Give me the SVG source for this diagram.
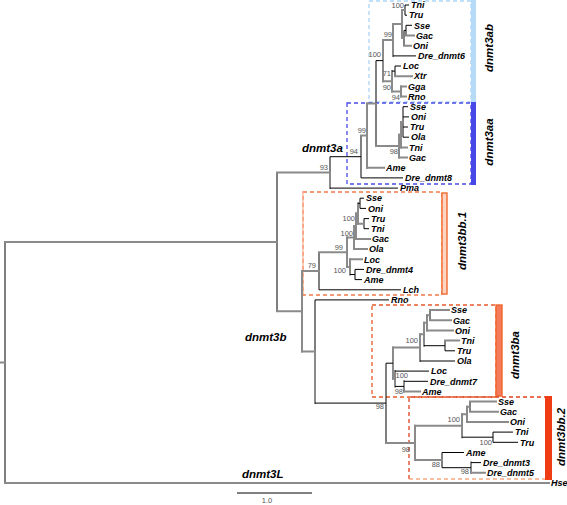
<svg xmlns="http://www.w3.org/2000/svg" width="567" height="505" viewBox="0 0 567 505">
<style>
.g{stroke:#8a8a8a;stroke-width:2;fill:none;stroke-linecap:square}
.k{stroke:#000;stroke-width:1;fill:none}
.lf{font-family:"Liberation Sans",Arial,sans-serif;font-style:italic;font-weight:bold;font-size:9px;fill:#000}
.bs{font-family:"Liberation Sans",Arial,sans-serif;font-size:7.5px;fill:#555;text-anchor:end}
.cl{font-family:"Liberation Sans",Arial,sans-serif;font-style:italic;font-weight:bold;font-size:11.5px;fill:#000}
.rl{font-family:"Liberation Sans",Arial,sans-serif;font-style:italic;font-weight:bold;font-size:11.5px;fill:#000;text-anchor:middle}
.box{fill:none;stroke-width:1.3;stroke-dasharray:4,3}
</style>
<rect width="567" height="505" fill="#fff"/>
<g id="clade-boxes">
<g id="box-dnmt3ab"><rect class="box" x="369" y="1" width="102" height="101" stroke="#acd5f6"/><rect x="471" y="0" width="5" height="102" fill="#b6dbf8"/><text class="rl" transform="translate(493,48) rotate(-90)">dnmt3ab</text></g>
<g id="box-dnmt3aa"><rect class="box" x="347" y="103" width="124" height="81" stroke="#4b4be6"/><rect x="471" y="102" width="5" height="83" fill="#4848e8"/><text class="rl" transform="translate(493,142) rotate(-90)">dnmt3aa</text></g>
<g id="box-dnmt3bb1"><rect class="box" x="303" y="192" width="139" height="103" stroke="#f27a48"/><line class="box" x1="303" y1="192" x2="303" y2="295" stroke="#f8b594"/><rect x="442" y="193" width="5" height="101" fill="#fdd5c2" stroke="#f06a30" stroke-width="1.4"/><text class="rl" transform="translate(466,241) rotate(-90)">dnmt3bb.1</text></g>
<g id="box-dnmt3ba"><rect class="box" x="372" y="305" width="124" height="92" stroke="#e85a2a"/><rect x="496" y="305" width="6" height="91" fill="#f47a5c" stroke="#f0662c" stroke-width="1.4"/><text class="rl" transform="translate(519,355) rotate(-90)">dnmt3ba</text></g>
<g id="box-dnmt3bb2"><path class="box" d="M409 479V397H545" stroke="#e0401c"/><line class="box" x1="409" y1="479" x2="545" y2="479" stroke="#f8a880"/><rect x="545" y="396" width="7" height="84" fill="#f03c14"/><text class="rl" transform="translate(565,437) rotate(-90)">dnmt3bb.2</text></g>
</g>
<g id="connectors">
<path class="k" d="M5 241.9V483M277 172.4V311.3M330 156.7V172.4M361 135.5V177.9M376 60.6V146.1M405 5V15.2M404 30.4V45.7M406 25.3V35.5M395 66V76.2M403 106.7V137.2M319 252.3V289.8M360 198.2V208.4M364 218.6V228.7M355 269.4V279.6M315 299.9V351.5M386 363.2V443M430 310.1V320.3M445 340.6V350.8M470 401.6V411.8M493 432.1V442.3M442 452.5V467.7"/>
<path class="g" d="M330 172.4V188.1M367 103.4V167.7M383 40V81.3M393 24.1V55.9M402 10.1V38M392 71.1V91.4M401 86.4V96.5M399 134.7V157.6M401 122V147.4M302 271V351.5M347 237.6V266.9M354 226.2V249.1M356 213.5V238.9M358 203.3V223.7M350 259.3V274.5M315 351.5V403.1M393 347.6V378.8M420 334.2V361M424 322.8V345.7M427 315.2V330.4M395 371.1V386.4M404 381.3V391.5M415 425.8V460.1M462 414.3V437.2M467 406.7V422M471 462.6V472.8"/>
<path class="g" d="M0 362.4H5M5 241.9H277M5 483H549M277 172.4H330M277 311.3H302M361 135.5H367M367 103.4H376M367 167.7H384M376 146.1H399M383 40H393M383 81.3H392M393 24.1H402M402 10.1H405M402 38H404M404 45.7H411M406 35.5H414M392 91.4H401M395 76.2H412M401 86.4H406M401 96.5H406M399 134.7H401M399 157.6H407M401 122H403M401 147.4H407M302 271H319M302 351.5H315M319 252.3H347M347 237.6H354M347 266.9H350M354 226.2H356M354 249.1H367M356 213.5H358M356 238.9H370M358 223.7H364M350 259.3H362M386 443H415M393 347.6H420M393 378.8H395M420 334.2H424M424 322.8H427M427 315.2H430M427 330.4H453M430 310.1H449M430 320.3H451M445 340.6H459M404 391.5H420M415 425.8H462M415 460.1H442M462 414.3H467M467 406.7H470M467 422H508M470 401.6H496M470 411.8H498M471 472.8H485"/>
<path class="k" d="M330 156.7H361M330 188.1H398M361 177.9H403M376 60.6H383M393 55.9H416M405 5H409M405 15.2H407M404 30.4H406M406 25.3H412M392 71.1H395M395 66H401M403 106.7H408M403 116.9H409M403 127H408M403 137.2H409M319 289.8H401M358 203.3H360M360 198.2H364M360 208.4H366M364 218.6H369M364 228.7H369M350 274.5H355M355 269.4H364M355 279.6H362M315 299.9H389M315 403.1H386M386 363.2H393M420 361H455M424 345.7H445M445 350.8H455M395 371.1H429M395 386.4H404M404 381.3H428M462 437.2H493M493 432.1H513M493 442.3H518M442 452.5H464M442 467.7H471M471 462.6H481"/>
<line x1="237" y1="493" x2="312" y2="493" stroke="#000" stroke-width="1"/>
</g>
<g id="support-values">
<text class="bs" x="404" y="8">100</text>
<text class="bs" x="392" y="37">99</text>
<text class="bs" x="381" y="57">100</text>
<text class="bs" x="391" y="76">71</text>
<text class="bs" x="391" y="90">90</text>
<text class="bs" x="400" y="100">94</text>
<text class="bs" x="366" y="133">99</text>
<text class="bs" x="398" y="154">98</text>
<text class="bs" x="358" y="154">94</text>
<text class="bs" x="328" y="170">93</text>
<text class="bs" x="355" y="221">100</text>
<text class="bs" x="353" y="236">100</text>
<text class="bs" x="343" y="250">99</text>
<text class="bs" x="316" y="268">79</text>
<text class="bs" x="346" y="273">100</text>
<text class="bs" x="418" y="343">100</text>
<text class="bs" x="408" y="378">100</text>
<text class="bs" x="403" y="394">98</text>
<text class="bs" x="384" y="409">98</text>
<text class="bs" x="460" y="422">100</text>
<text class="bs" x="492" y="445">100</text>
<text class="bs" x="410" y="452">98</text>
<text class="bs" x="440" y="467">88</text>
<text class="bs" x="469" y="474">98</text>
</g>
<g id="clade-labels">
<text class="cl" x="302" y="152">dnmt3a</text>
<text class="cl" x="245" y="341">dnmt3b</text>
<text class="cl" x="242" y="478">dnmt3L</text>
<text x="267" y="503" font-family="Liberation Sans,Arial,sans-serif" font-size="7.5" fill="#555" text-anchor="middle">1.0</text>
</g>
<g id="leaves">
<g id="n-3ab-Tni"><text class="lf" x="411" y="8.2">Tni</text></g>
<g id="n-3ab-Tru"><text class="lf" x="409" y="18.4">Tru</text></g>
<g id="n-3ab-Sse"><text class="lf" x="414" y="28.5">Sse</text></g>
<g id="n-3ab-Gac"><text class="lf" x="416" y="38.7">Gac</text></g>
<g id="n-3ab-Oni"><text class="lf" x="413" y="48.9">Oni</text></g>
<g id="n-3ab-Dre6"><text class="lf" x="418" y="59.1">Dre_dnmt6</text></g>
<g id="n-3ab-Loc"><text class="lf" x="403" y="69.2">Loc</text></g>
<g id="n-3ab-Xtr"><text class="lf" x="414" y="79.4">Xtr</text></g>
<g id="n-3ab-Gga"><text class="lf" x="408" y="89.6">Gga</text></g>
<g id="n-3ab-Rno"><text class="lf" x="408" y="99.7">Rno</text></g>
<g id="n-3aa-Sse"><text class="lf" x="410" y="109.9">Sse</text></g>
<g id="n-3aa-Oni"><text class="lf" x="411" y="120.1">Oni</text></g>
<g id="n-3aa-Tru"><text class="lf" x="410" y="130.2">Tru</text></g>
<g id="n-3aa-Ola"><text class="lf" x="411" y="140.4">Ola</text></g>
<g id="n-3aa-Tni"><text class="lf" x="409" y="150.6">Tni</text></g>
<g id="n-3aa-Gac"><text class="lf" x="409" y="160.8">Gac</text></g>
<g id="n-3aa-Ame"><text class="lf" x="386" y="170.9">Ame</text></g>
<g id="n-3aa-Dre8"><text class="lf" x="405" y="181.1">Dre_dnmt8</text></g>
<g id="n-Pma"><text class="lf" x="400" y="191.3">Pma</text></g>
<g id="n-bb1-Sse"><text class="lf" x="366" y="201.4">Sse</text></g>
<g id="n-bb1-Oni"><text class="lf" x="368" y="211.6">Oni</text></g>
<g id="n-bb1-Tru"><text class="lf" x="371" y="221.8">Tru</text></g>
<g id="n-bb1-Tni"><text class="lf" x="371" y="231.9">Tni</text></g>
<g id="n-bb1-Gac"><text class="lf" x="372" y="242.1">Gac</text></g>
<g id="n-bb1-Ola"><text class="lf" x="369" y="252.3">Ola</text></g>
<g id="n-bb1-Loc"><text class="lf" x="364" y="262.5">Loc</text></g>
<g id="n-bb1-Dre4"><text class="lf" x="366" y="272.6">Dre_dnmt4</text></g>
<g id="n-bb1-Ame"><text class="lf" x="364" y="282.8">Ame</text></g>
<g id="n-Lch"><text class="lf" x="403" y="293">Lch</text></g>
<g id="n-Rno"><text class="lf" x="391" y="303.1">Rno</text></g>
<g id="n-ba-Sse"><text class="lf" x="451" y="313.3">Sse</text></g>
<g id="n-ba-Gac"><text class="lf" x="453" y="323.5">Gac</text></g>
<g id="n-ba-Oni"><text class="lf" x="455" y="333.6">Oni</text></g>
<g id="n-ba-Tni"><text class="lf" x="461" y="343.8">Tni</text></g>
<g id="n-ba-Tru"><text class="lf" x="457" y="354">Tru</text></g>
<g id="n-ba-Ola"><text class="lf" x="457" y="364.2">Ola</text></g>
<g id="n-ba-Loc"><text class="lf" x="431" y="374.3">Loc</text></g>
<g id="n-ba-Dre7"><text class="lf" x="430" y="384.5">Dre_dnmt7</text></g>
<g id="n-ba-Ame"><text class="lf" x="422" y="394.7">Ame</text></g>
<g id="n-bb2-Sse"><text class="lf" x="498" y="404.8">Sse</text></g>
<g id="n-bb2-Gac"><text class="lf" x="500" y="415">Gac</text></g>
<g id="n-bb2-Oni"><text class="lf" x="510" y="425.2">Oni</text></g>
<g id="n-bb2-Tni"><text class="lf" x="515" y="435.3">Tni</text></g>
<g id="n-bb2-Tru"><text class="lf" x="520" y="445.5">Tru</text></g>
<g id="n-bb2-Ame"><text class="lf" x="466" y="455.7">Ame</text></g>
<g id="n-bb2-Dre3"><text class="lf" x="483" y="465.8">Dre_dnmt3</text></g>
<g id="n-bb2-Dre5"><text class="lf" x="487" y="476">Dre_dnmt5</text></g>
<g id="n-Hse"><text class="lf" x="551" y="486.2">Hse</text></g>
</g>
</svg>
